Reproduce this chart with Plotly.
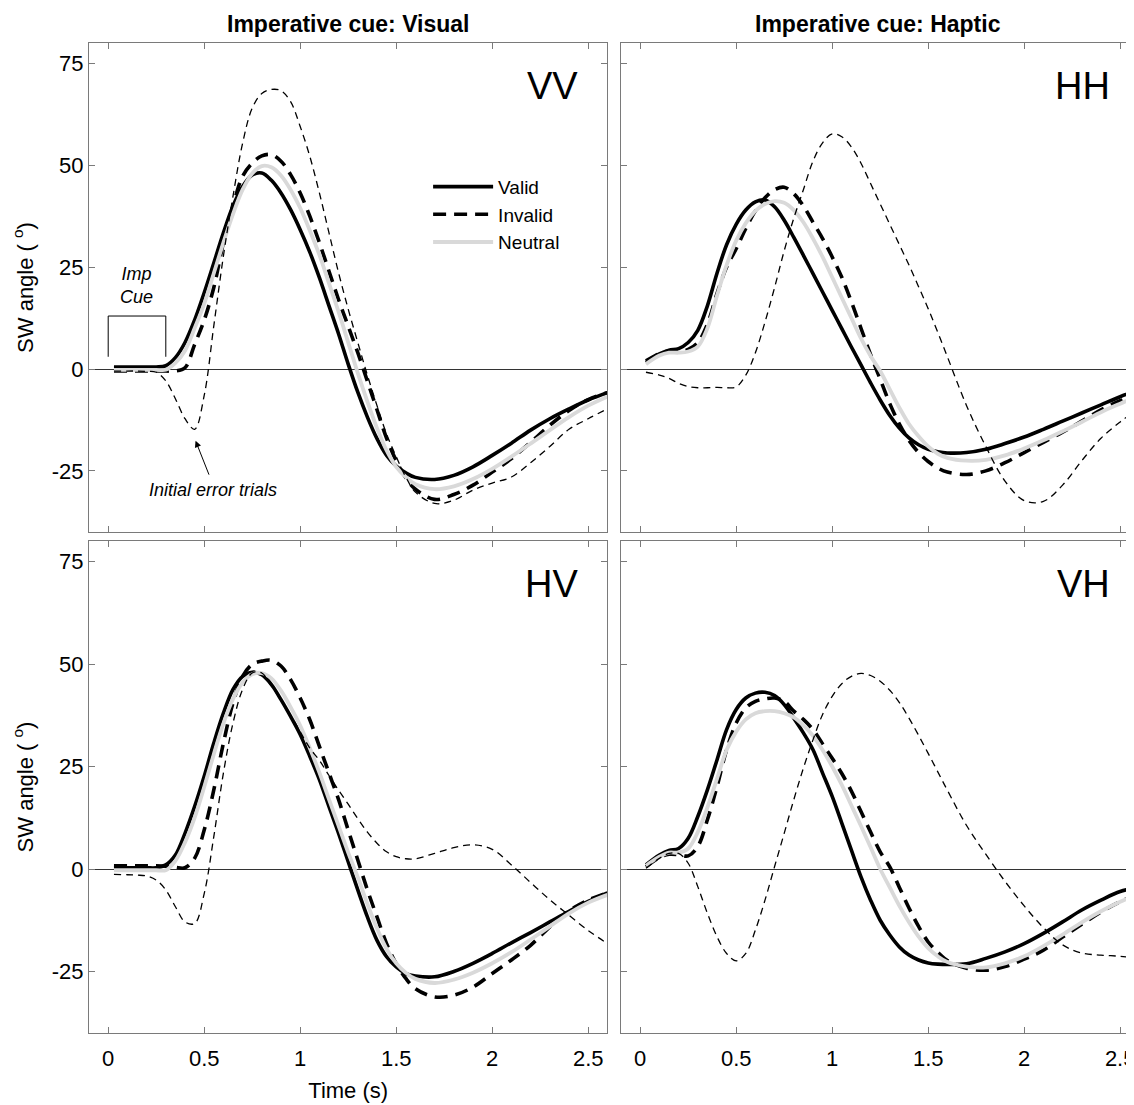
import plotly.graph_objects as go

# ---------------- data ----------------
t = [0.03, 0.10, 0.15, 0.20, 0.25, 0.30, 0.35, 0.40, 0.45, 0.50, 0.55, 0.60, 0.65, 0.70,
     0.75, 0.80, 0.85, 0.90, 0.95, 1.00, 1.05, 1.10, 1.15, 1.20, 1.25, 1.30, 1.35, 1.40,
     1.45, 1.50, 1.55, 1.60, 1.70, 1.80, 1.90, 2.00, 2.10, 2.20, 2.30, 2.40, 2.50, 2.60]

# VV panel
vv_valid = [0.5, 0.5, 0.5, 0.5, 0.5, 0.8, 2.8, 6.5, 12, 18.7, 26, 33.4, 40, 44.8,
            47.6, 48.1, 46.3, 43.2, 39.1, 34.2, 28.7, 22.4, 15.5, 8.6, 1.2, -5.7, -11.8, -17.1,
            -21.2, -23.8, -25.5, -26.6, -27.1, -26.1, -24, -21.2, -18.2, -15, -12.2, -9.8, -7.6, -5.8]
vv_invalid = [-0.5, -0.5, -0.5, -0.5, -0.5, -0.5, -0.5, 0.3, 6, 12, 20, 31, 40, 47.3,
              50.5, 52.3, 52.6, 51, 47.7, 43.2, 37.5, 31, 24, 17, 10.5, 4, -3, -10,
              -17, -22.5, -26.7, -29.5, -32, -30.8, -28.5, -25.3, -22, -18, -13.8, -10.2, -7.5, -5.8]
vv_neutral = [-0.2, -0.2, -0.2, -0.2, -0.2, -0.2, 1.5, 4.5, 10, 16, 23.5, 31, 38, 44,
              48, 49.8, 49.5, 47.5, 44, 39.5, 34, 28, 21, 14, 6.5, -1, -8, -14.5,
              -20, -24, -26.5, -28.3, -29.5, -28.8, -27, -24.5, -21.5, -18.3, -15, -11.8, -9, -6.8]
vv_error = [-0.5, -0.5, -0.5, -0.6, -0.8, -2.9, -7.3, -12.2, -14.8, -6.5, 10.6, 27.7, 42.4, 55.4,
            64, 67.6, 68.6, 68.3, 65.6, 59.5, 52.2, 43.2, 33.4, 23.6, 14.7, 6.5, -1.5, -9,
            -16, -21.5, -26.5, -30.2, -33, -32.2, -29.7, -28, -26.5, -23, -19, -14.8, -12.2, -9.8]

# HH panel
hh_valid = [1.6, 3.7, 4.6, 5, 6.5, 9.5, 15.5, 23.5, 30.5, 35.5, 39, 41, 41.5, 39.8,
            36.5, 32.3, 27.9, 23.4, 18.9, 14.4, 9.9, 5.4, 1, -3.4, -7.6, -11.4, -14.5, -16.9,
            -18.6, -19.7, -20.3, -20.6, -20.5, -19.7, -18.3, -16.7, -14.8, -12.8, -10.8, -8.8, -6.8, -5]
hh_invalid = [2, 3.8, 4.4, 4.3, 4.8, 6.5, 11, 18.5, 25, 29.5, 34.5, 38.8, 42, 44,
              44.6, 43, 40, 36, 32, 27.5, 22.5, 16.5, 10, 3.5, -2.5, -8.5, -13.5, -17.5,
              -20.5, -22.7, -24.3, -25.3, -25.9, -25, -23, -20.5, -18, -15.5, -12.8, -10, -7.8, -6]
hh_neutral = [1.2, 3.3, 4, 4, 4.3, 5.5, 10, 18, 25.5, 31.5, 35.8, 38.8, 40.5, 41.2,
              40.8, 39, 36, 32, 27.5, 22.5, 17.5, 12.5, 7.5, 3.2, -0.5, -5, -9.5, -13.5,
              -16.5, -19, -20.8, -21.8, -22.5, -22.3, -21.2, -19.5, -17.5, -15.3, -13, -10.6, -8.5, -6.5]
hh_error = [-0.8, -1.5, -2.3, -3.5, -4.3, -4.6, -4.6, -4.5, -4.6, -4.4, -1.5, 4, 11.5, 20,
            29, 37, 44, 51, 55.5, 57.7, 57, 54.5, 50.5, 45.5, 40.5, 35.5, 30.5, 25.5,
            20.2, 14.8, 9, 3, -9, -19, -27.5, -32.3, -32.5, -28.5, -22.5, -17, -13, -9.5]

# HV panel
hv_valid = [0.3, 0.3, 0.3, 0.3, 0.3, 1, 3.4, 8.7, 15.2, 22.6, 30.7, 38, 43.8, 47,
            48, 47.4, 45, 41.3, 37.2, 32.8, 27.5, 21.8, 15.2, 8.7, 1.8, -5.1, -11.7, -17.4,
            -21.4, -23.9, -25.5, -26.1, -26.3, -25, -23, -20.6, -18, -15.5, -12.9, -10.3, -7.9, -5.8]
hv_invalid = [0.8, 0.8, 0.8, 0.8, 0.8, 0.7, 0.4, 0.3, 2.6, 9.5, 19.3, 30.7, 40.5, 47,
              49.9, 50.7, 50.9, 49.5, 46.2, 41.7, 36.4, 29.9, 23.4, 16.9, 9.5, 2.2, -5.1, -11.7,
              -18.2, -23.1, -26.7, -29.2, -31.2, -30.8, -28.8, -25.5, -22.2, -18.6, -14.1, -10.2, -7.6, -5.8]
hv_neutral = [-0.3, -0.3, -0.3, -0.3, -0.3, -0.3, 2, 6.5, 12.5, 20, 28, 35.5, 41.5, 45.5,
              47.5, 47.8, 46.5, 43.5, 39.5, 35, 29.5, 23.5, 17, 10.5, 4, -2, -8.5, -14.5,
              -19.5, -23, -25.3, -26.8, -27.8, -27, -25.3, -23, -20.3, -17.2, -14, -10.8, -8.2, -6.3]
hv_error = [-1.3, -1.4, -1.5, -1.7, -2.7, -5.1, -9.2, -12.9, -13.3, -6, 7.9, 23.4, 35.6, 43.8,
            47.8, 47.8, 44.6, 41.3, 37.5, 33.5, 29.5, 26.5, 22.8, 19.2, 15.8, 12.3, 9, 6.3,
            4.2, 3, 2.5, 2.5, 3.8, 5.2, 5.9, 4.8, 1, -3.3, -7.5, -11.3, -15, -18.2]

# VH panel
vh_valid = [1, 3.4, 4.5, 5, 7.5, 12.8, 19.3, 26.6, 34, 38.9, 41.7, 42.9, 43.1, 42.3,
            40.1, 36.8, 33.2, 29.1, 23.4, 17.7, 11.2, 4.6, -1.9, -7.6, -12.5, -16.1, -19, -21,
            -22.2, -22.9, -23.2, -23.3, -23.1, -21.8, -20.2, -18.2, -15.7, -12.9, -10, -7.6, -5.5, -4.5]
vh_invalid = [0.5, 2.8, 3.6, 3.5, 3.2, 5.5, 12, 20.1, 29.1, 35.6, 39.3, 40.9, 41.5, 41.7,
              40.9, 38.5, 36.5, 34, 30.5, 27, 23.3, 19, 14, 9, 4.2, 0.5, -4.5, -9.5,
              -14, -17.8, -20.3, -22.3, -24.2, -24.7, -23.8, -22, -19.8, -16.6, -13.5, -10.5, -8, -6]
vh_neutral = [0.8, 3, 4, 4, 5, 9, 15, 22, 29, 33.5, 36.5, 38, 38.5, 38.5,
              38, 37, 35, 32.5, 29, 25, 20.5, 15.5, 10.5, 5.3, 0, -4.5, -9, -13,
              -16.5, -19.3, -21.3, -22.7, -23.8, -24, -23, -21.3, -18.8, -16, -13, -10.3, -8, -6]
vh_error = [0.2, 2.6, 3.8, 3.8, 1.4, -4.3, -10.8, -16.5, -20.6, -22.4, -20.6, -14.9, -7.6, 0.6,
            8.7, 16.9, 24.6, 31.5, 37.7, 42.1, 45.2, 47, 47.7, 47.2, 45.8, 43.6, 40.6, 36.8,
            32.6, 28.2, 23.7, 19.2, 10.6, 3.6, -3, -9, -14.3, -18.5, -20.5, -21, -21.3, -21.8]

panel_labels = ["VV", "HH", "HV", "VH"]
column_titles = ["Imperative cue: Visual", "Imperative cue: Haptic"]
x_ticks = [0, 0.5, 1, 1.5, 2, 2.5]
x_ticktext = ["0", "0.5", "1", "1.5", "2", "2.5"]
y_ticks = [-25, 0, 25, 50, 75]
y_ticktext = ["-25", "0", "25", "50", "75"]
series_names = ["Valid", "Invalid", "Neutral"]

# Imperative cue bracket (annotation helper)
cue_x = [0.0, 0.0, 0.3, 0.3]
cue_y = [3.0, 13.0, 13.0, 3.0]

# ---------------- styling ----------------
FONT = "Liberation Sans, Arial, Helvetica, sans-serif"
BORDER = "#7a7a7a"
GRAY = "#d9d9d9"
PAGE_OFF = 8            # default body margin of the html page
W, H = 1134 - PAGE_OFF, 1105 - PAGE_OFF
ML, MR, MT, MB = 89 - PAGE_OFF, 0, 43 - PAGE_OFF, 72

panels = [
    ("x", "y", vv_valid, vv_invalid, vv_neutral, vv_error),
    ("x2", "y2", hh_valid, hh_invalid, hh_neutral, hh_error),
    ("x3", "y3", hv_valid, hv_invalid, hv_neutral, hv_error),
    ("x4", "y4", vh_valid, vh_invalid, vh_neutral, vh_error),
]

fig = go.Figure()
for i, (xa, ya, valid, invalid, neutral, err) in enumerate(panels):
    show = (i == 0)
    fig.add_trace(go.Scatter(x=t, y=valid, xaxis=xa, yaxis=ya, mode="lines",
                             line=dict(color="black", width=3.6, shape="spline"),
                             name=series_names[0], showlegend=show, legendrank=1))
    fig.add_trace(go.Scatter(x=t, y=invalid, xaxis=xa, yaxis=ya, mode="lines",
                             line=dict(color="black", width=3.6, dash="13px,8px", shape="spline"),
                             name=series_names[1], showlegend=show, legendrank=2))
    fig.add_trace(go.Scatter(x=t, y=neutral, xaxis=xa, yaxis=ya, mode="lines",
                             line=dict(color=GRAY, width=3.8, shape="spline"),
                             name=series_names[2], showlegend=show, legendrank=3))
    fig.add_trace(go.Scatter(x=t, y=err, xaxis=xa, yaxis=ya, mode="lines",
                             line=dict(color="black", width=1.3, dash="7px,5px", shape="spline"),
                             name="Initial error trials", showlegend=False))

fig.add_trace(go.Scatter(x=cue_x, y=cue_y, xaxis="x", yaxis="y", mode="lines",
                         line=dict(color="black", width=1), showlegend=False, hoverinfo="skip"))

pw = W - ML - MR
ph = H - MT - MB
left_dom = [0, (2.7 * 192) / pw]
right_dom = [(621 - 89) / pw, 1]
top_dom = [(1033 - 532) / ph, 1]
bot_dom = [0, (1033 - 541) / ph]

def xax(domain, rng, anchor, labels, title=None):
    d = dict(domain=domain, range=rng, anchor=anchor, showline=True, linecolor=BORDER,
             linewidth=1, mirror="ticks", ticks="inside", ticklen=6, tickcolor=BORDER,
             showgrid=False, zeroline=False, tickvals=x_ticks, ticktext=x_ticktext,
             automargin=False, ticklabelstandoff=6, ticklabeloverflow="allow",
             showticklabels=labels, tickfont=dict(size=22, color="black", family=FONT))
    if title:
        d["title"] = dict(text=title, font=dict(size=22, color="black", family=FONT), standoff=12)
    return d

def yax(domain, anchor, labels, title=None):
    d = dict(domain=domain, range=[-40, 80], anchor=anchor, showline=True, linecolor=BORDER,
             linewidth=1, mirror="ticks", ticks="inside", ticklen=6, tickcolor=BORDER,
             showgrid=False, zeroline=True, zerolinecolor="#333333", zerolinewidth=1.2,
             tickvals=y_ticks, ticktext=y_ticktext, showticklabels=labels, automargin=False,
             tickfont=dict(size=22, color="black", family=FONT))
    if title:
        d["title"] = dict(text=title, font=dict(size=22, color="black", family=FONT), standoff=12)
    return d

ytitle = "SW angle ( <sup>o</sup>)"
fig.update_layout(
    width=W, height=H,
    margin=dict(l=ML, r=MR, t=MT, b=MB, autoexpand=False),
    paper_bgcolor="white", plot_bgcolor="white",
    font=dict(family=FONT, color="black"),
    xaxis=xax(left_dom, [-0.1, 2.6], "y", False),
    yaxis=yax(top_dom, "x", True, ytitle),
    xaxis2=xax(right_dom, [-0.1, 2.572], "y2", False),
    yaxis2=yax(top_dom, "x2", False),
    xaxis3=xax(left_dom, [-0.1, 2.6], "y3", True, "Time (s)"),
    yaxis3=yax(bot_dom, "x3", True, ytitle),
    xaxis4=xax(right_dom, [-0.1, 2.572], "y4", True),
    yaxis4=yax(bot_dom, "x4", False),
    legend=dict(x=0.3245, y=0.874, xanchor="left", yanchor="top",
                font=dict(size=19, family=FONT, color="black"),
                bgcolor="rgba(0,0,0,0)", itemwidth=60, traceorder="normal"),
    showlegend=True,
)

annotations = []
# column titles
col_centers = [(left_dom[0] + left_dom[1]) / 2, (right_dom[0] + right_dom[1]) / 2]
for ctext, cx in zip(column_titles, col_centers):
    annotations.append(dict(text="<b>" + ctext + "</b>", xref="paper", yref="paper",
                            x=cx, y=1 + 19 / ph, xanchor="center", yanchor="middle",
                            showarrow=False, font=dict(size=23, family=FONT, color="black")))
# panel labels
for lab, (xa, ya) in zip(panel_labels, [("x", "y"), ("x2", "y2"), ("x3", "y3"), ("x4", "y4")]):
    annotations.append(dict(text=lab, xref=xa, yref=ya, x=2.455, y=69.5,
                            xanchor="right", yanchor="middle", showarrow=False,
                            font=dict(size=38, family=FONT, color="black")))
# Imp Cue
annotations.append(dict(text="Imp<br>Cue", xref="x", yref="y", x=0.148, y=20.4,
                        xanchor="center", yanchor="middle", showarrow=False,
                        font=dict(size=18, family=FONT, color="black", style="italic")))
# arrow
annotations.append(dict(text="", xref="x", yref="y", x=0.455, y=-17.6,
                        axref="x", ayref="y", ax=0.528, ay=-26.3, showarrow=True,
                        arrowhead=2, arrowsize=1.3, arrowwidth=1, arrowcolor="black"))
annotations.append(dict(text="Initial error trials", xref="x", yref="y", x=0.547, y=-29.8,
                        xanchor="center", yanchor="middle", showarrow=False,
                        font=dict(size=18, family=FONT, color="black", style="italic")))
fig.update_layout(annotations=annotations)

fig.write_html("out.html")
